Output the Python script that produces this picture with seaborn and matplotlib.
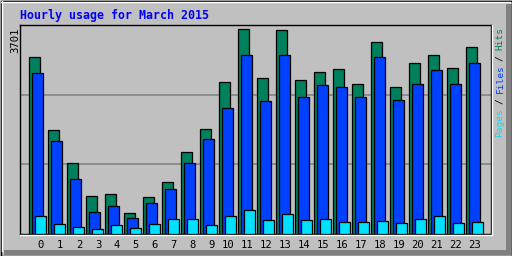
import numpy as np
import pandas as pd
import matplotlib
matplotlib.use("Agg")
import matplotlib.pyplot as plt
import seaborn as sns
from matplotlib.lines import Line2D
from matplotlib.patches import Rectangle

# ---- data ----
hours = list(range(24))
hits = [3193, 1887, 1288, 689, 726, 381, 671, 943, 1488, 1905, 2739, 3701,
        2812, 3683, 2776, 2921, 2975, 2703, 3465, 2649, 3084, 3229, 2993, 3374]
files = [2903, 1687, 998, 399, 508, 290, 562, 816, 1288, 1723, 2268, 3229,
         2395, 3229, 2467, 2685, 2649, 2467, 3193, 2413, 2703, 2957, 2703, 3084]
pages = [327, 181, 127, 91, 163, 109, 181, 272, 272, 163, 327, 435,
         254, 363, 254, 272, 218, 218, 236, 200, 272, 327, 200, 218]
tick_labels = [str(h) for h in hours]
title = "Hourly usage for March 2015"
max_label = "3701"

C_HITS = "#00805c"
C_FILES = "#0040ff"
C_PAGES = "#00e0ff"
BG = "#c0c0c0"

W, H, DPI = 512, 256, 100
fig = plt.figure(figsize=(W / DPI, H / DPI), dpi=DPI, facecolor=BG)

def fx(x):
    return x / W

def fy(y):
    return 1 - y / H

# plot area in pixels
L, T, R, B = 20, 25, 490.5, 233.8
ax = fig.add_axes([fx(L), fy(B), (R - L) / W, (B - T) / H])
ax.set_facecolor(BG)

ymax = 3701 * (B - T) / 204.5
step = 19.0
off = 3.0 / step
bw = 10.4 / step

df = pd.DataFrame({"hour": hours, "hits": hits, "files": files, "pages": pages})
for col, color, o in [("hits", C_HITS, -off), ("files", C_FILES, 0.0), ("pages", C_PAGES, off)]:
    sns.barplot(x=df["hour"] + o, y=df[col], native_scale=True, width=bw,
                color=color, saturation=1, edgecolor="black", linewidth=0.9,
                errorbar=None, ax=ax, zorder=3)

for k in (1, 2):
    ax.axhline(ymax * k / 3, color="#808080", lw=1.1, zorder=1)

xmin = -(37.5 - L) / step
xmax = (R - 37.5) / step
ax.set_xlim(xmin, xmax)
ax.set_ylim(0, ymax)
ax.set_xlabel("")
ax.set_ylabel("")
ax.set_yticks([])
ax.set_xticks(np.array(hours) + 0.35)
ax.set_xticklabels(tick_labels, fontfamily="DejaVu Sans Mono", fontsize=7.6,
                   ha="right", color="black")
ax.tick_params(axis="x", length=0, pad=4.8)
for s in ax.spines.values():
    s.set_color("black")
    s.set_linewidth(1.0)

# 3D plot frame highlight (bottom/right white)
fig.add_artist(Line2D([fx(L), fx(R + 1.5)], [fy(B + 1.5), fy(B + 1.5)], color="white", lw=1.0))
fig.add_artist(Line2D([fx(R + 1.5), fx(R + 1.5)], [fy(T), fy(B + 1.5)], color="white", lw=1.0))

# outer frame
fig.add_artist(Rectangle((fx(4), fy(255)), fx(507), (255 - 250) / H, transform=fig.transFigure,
                         facecolor="#808080", edgecolor="none"))
fig.add_artist(Rectangle((fx(506), fy(255)), fx(6), (255 - 4) / H, transform=fig.transFigure,
                         facecolor="#808080", edgecolor="none"))
fig.add_artist(Line2D([fx(1), fx(510)], [fy(1.5), fy(1.5)], color="white", lw=1.0))
fig.add_artist(Line2D([fx(1.5), fx(1.5)], [fy(1), fy(251)], color="white", lw=1.0))
fig.add_artist(Rectangle((fx(0.5), fy(255.5)), fx(511), 255 / H, transform=fig.transFigure,
                         facecolor="none", edgecolor="black", lw=1.0))

# title
fig.text(fx(20), fy(15.5), title, fontfamily="DejaVu Sans Mono", fontweight="bold",
         fontsize=8.4, color="#0000ff", ha="left", va="center")

# max label
fig.text(fx(15), fy(27.5), max_label, fontfamily="DejaVu Sans Mono", fontsize=7.6,
         color="black", rotation=90, ha="center", va="top")

# right legend text, bottom to top
adv = 5.45
pieces = [("Pages", C_PAGES, 0), ("/", "black", 6), ("Files", C_FILES, 8),
          ("/", "black", 14), ("Hits", C_HITS, 16)]
for txt, col, idx in pieces:
    fig.text(fx(500), fy(137 - idx * adv), txt, fontfamily="DejaVu Sans Mono",
             fontsize=6.8, color=col, rotation=90, ha="center", va="bottom")

fig.savefig("out.png", dpi=DPI, facecolor=BG)
